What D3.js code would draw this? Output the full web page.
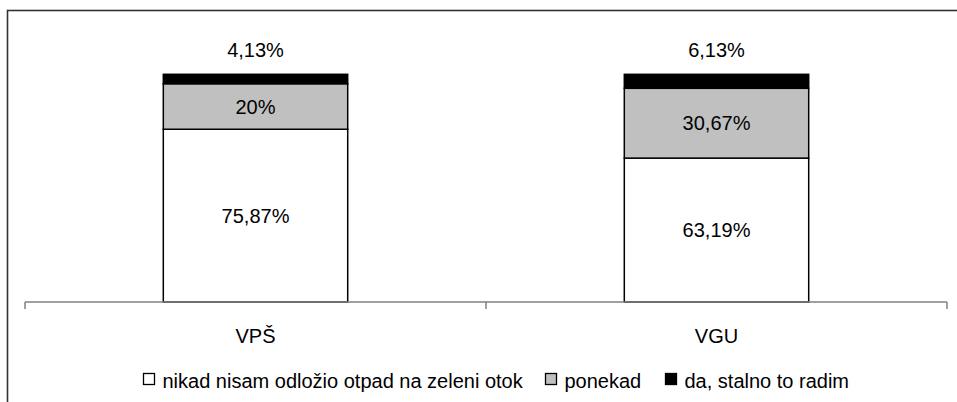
<!DOCTYPE html>
<html>
<head>
<meta charset="utf-8">
<script src="https://cdn.jsdelivr.net/npm/d3@7"></script>
<style>
  html, body { margin: 0; padding: 0; background: #fff; }
  svg { display: block; }
  text { font-family: "Liberation Sans", Arial, sans-serif; fill: #000; }
</style>
</head>
<body>
<svg id="chart" width="957" height="402"></svg>
<script>
// ---- data ----
const categories = ["VPŠ", "VGU"];
const seriesNames = ["nikad nisam odložio otpad na zeleni otok", "ponekad", "da, stalno to radim"];
const nikad   = [75.87, 63.19];
const ponekad = [20, 30.67];
const stalno  = [4.13, 6.13];
const labelNikad   = ["75,87%", "63,19%"];
const labelPonekad = ["20%", "30,67%"];
const labelStalno  = ["4,13%", "6,13%"];

// ---- styles / layout ----
const colors = ["#ffffff", "#c0c0c0", "#000000"];
const svg = d3.select("#chart");
const W = 957, H = 402;

// outer frame (right and bottom edges lie outside the picture)
svg.append("rect")
  .attr("x", 7.5).attr("y", 10.5)
  .attr("width", 1000).attr("height", 1000)
  .attr("fill", "none").attr("stroke", "#333").attr("stroke-width", 1.6);

const x = d3.scaleBand().domain(categories).range([25, 947]).paddingInner(0).paddingOuter(0);
const y = d3.scaleLinear().domain([0, 100]).range([302, 74.3]);
const barW = x.bandwidth() * 0.4;

const rows = categories.map((c, i) => ({ cat: c, nikad: nikad[i], ponekad: ponekad[i], stalno: stalno[i] }));
const keys = ["nikad", "ponekad", "stalno"];
const labels = { nikad: labelNikad, ponekad: labelPonekad, stalno: labelStalno };
const stack = d3.stack().keys(keys)(rows);

const g = svg.append("g");
stack.forEach((layer, k) => {
  g.selectAll(null).data(layer).enter().append("rect")
    .attr("x", d => x(d.data.cat) + (x.bandwidth() - barW) / 2)
    .attr("y", d => y(d[1]))
    .attr("width", barW)
    .attr("height", d => y(d[0]) - y(d[1]))
    .attr("fill", colors[k])
    .attr("stroke", "#000")
    .attr("stroke-width", 1.5);
});

// value labels
stack.forEach((layer, k) => {
  const key = keys[k];
  g.selectAll(null).data(layer).enter().append("text")
    .attr("x", d => x(d.data.cat) + x.bandwidth() / 2)
    .attr("y", (d, i) => key === "stalno" ? y(d[1]) - 17.6 : (y(d[0]) + y(d[1])) / 2 + 7.2)
    .attr("text-anchor", "middle")
    .attr("font-size", 20)
    .text((d, i) => labels[key][i]);
});

// x axis
const axisG = svg.append("g");
axisG.append("line")
  .attr("x1", x.range()[0]).attr("x2", x.range()[1])
  .attr("y1", y(0)).attr("y2", y(0))
  .attr("stroke", "#7f7f7f").attr("stroke-width", 1.5);
const tickPos = categories.map(c => x(c)).concat([x.range()[1]]);
axisG.selectAll(null).data(tickPos).enter().append("line")
  .attr("x1", d => d).attr("x2", d => d)
  .attr("y1", y(0)).attr("y2", y(0) + 7)
  .attr("stroke", "#7f7f7f").attr("stroke-width", 1.5);
axisG.selectAll(null).data(categories).enter().append("text")
  .attr("x", d => x(d) + x.bandwidth() / 2)
  .attr("y", 343.3)
  .attr("text-anchor", "middle")
  .attr("font-size", 20)
  .text(d => d);

// legend
const legendX = [143.5, 545.5, 665.5];
const leg = svg.append("g");
seriesNames.forEach((name, k) => {
  leg.append("rect")
    .attr("x", legendX[k]).attr("y", 373.5)
    .attr("width", 11).attr("height", 11)
    .attr("fill", colors[k]).attr("stroke", "#000").attr("stroke-width", 1.3);
  leg.append("text")
    .attr("x", legendX[k] + 19)
    .attr("y", 388)
    .attr("font-size", 20)
    .text(name);
});
</script>
</body>
</html>
